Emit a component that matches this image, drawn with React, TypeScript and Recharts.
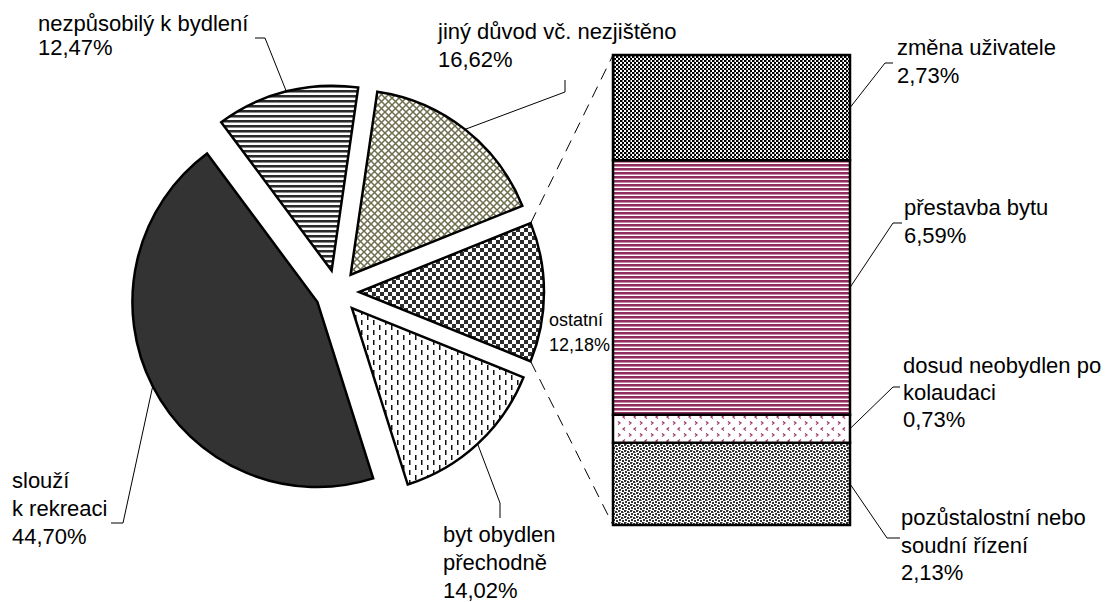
import React from 'react';
import { PieChart, Pie, BarChart, Bar, XAxis, YAxis, LabelList } from 'recharts';

// ---------- data ----------
const pieCategories = ['jiný důvod vč. nezjištěno', 'ostatní', 'byt obydlen přechodně', 'slouží k rekreaci', 'nezpůsobilý k bydlení'];
const pieValues = [16.62, 12.18, 14.02, 44.70, 12.47];
const pieLabelLines = [['jiný důvod vč. nezjištěno'], ['ostatní'], ['byt obydlen', 'přechodně'], ['slouží', 'k rekreaci'], ['nezpůsobilý k bydlení']];

const barCategories = ['změna uživatele', 'přestavba bytu', 'dosud neobydlen po kolaudaci', 'pozůstalostní nebo soudní řízení'];
const barValues = [2.73, 6.59, 0.73, 2.13];
const barLabelLines = [['změna uživatele'], ['přestavba bytu'], ['dosud neobydlen po', 'kolaudaci'], ['pozůstalostní nebo', 'soudní řízení']];

// ---------- styles / layout ----------
const FONT = 'Liberation Sans, Arial, Helvetica, sans-serif';
const pieFills = ['url(#pJiny)', 'url(#pOst)', 'url(#pByt)', '#333333', 'url(#pNez)'];
const barFills = ['url(#pZm)', 'url(#pPre)', 'url(#pDos)', 'url(#pPoz)'];

const PIE_CX = 337;
const PIE_CY = 292;
const PIE_R = 185;
const EXPLODE = 22;
const FIRST_ANGLE = 8.3; // degrees clockwise from 12 o'clock

const BAR_LEFT = 613;
const BAR_RIGHT = 850;
const BAR_TOP = 55;
const BAR_BOTTOM = 525;
const W = 1105;
const H = 602;

const pieLabelLayout = [
  { x: 438, y: 39, lh: 28, size: 22, elbow: [565, 92], end: [565, 80] },
  { x: 549, y: 326, lh: 25, size: 18 },
  { x: 443, y: 542, lh: 28, size: 22, elbow: [500, 503], end: [500, 518] },
  { x: 12, y: 488, lh: 28, size: 22, elbow: [123, 523], end: [111, 523] },
  { x: 38, y: 31, lh: 24, size: 22, elbow: [265, 38], end: [255, 38] },
];

const barLabelLayout = [
  { x: 897, y: 55, lh: 28, elbow: [885, 63], end: [893, 63] },
  { x: 904, y: 215, lh: 28, elbow: [893, 223], end: [902, 223] },
  { x: 903, y: 373, lh: 27, elbow: [893, 387], end: [900, 387] },
  { x: 901, y: 525, lh: 27.5, elbow: [887, 538], end: [900, 538] },
];

const fmt = (v: number) => v.toFixed(2).replace('.', ',') + '%';
const RAD = Math.PI / 180;

// slice geometry from data
let acc = FIRST_ANGLE;
const slices = pieValues.map((v) => {
  const a0 = acc;
  const a1 = acc + (v / 100) * 360;
  acc = a1;
  const mid = (a0 + a1) / 2;
  const midR = (90 - mid) * RAD;
  return {
    a0,
    a1,
    start: 90 - a0,
    end: 90 - a1,
    cx: PIE_CX + EXPLODE * Math.cos(midR),
    cy: PIE_CY - EXPLODE * Math.sin(midR),
  };
});

const barTotal = barValues.reduce((s, v) => s + v, 0);
const barRow: Record<string, any> = { name: 'ostatní' };
barValues.forEach((v, i) => {
  barRow['k' + i] = v;
});
const barData = [barRow];

const renderPieLabel = (i: number) => (props: any) => {
  const L = pieLabelLayout[i];
  const s = slices[i];
  const cx = props.cx ?? s.cx;
  const cy = props.cy ?? s.cy;
  const mid = props.midAngle ?? (s.start + s.end) / 2;
  const r = props.outerRadius ?? PIE_R;
  const ax = cx + r * Math.cos(mid * RAD);
  const ay = cy - r * Math.sin(mid * RAD);
  const lines = [...pieLabelLines[i], fmt(pieValues[i])];
  return (
    <g key={'pl' + i}>
      {L.elbow && (
        <polyline
          points={`${ax},${ay} ${L.elbow[0]},${L.elbow[1]} ${L.end![0]},${L.end![1]}`}
          fill="none"
          stroke="#000"
          strokeWidth={1}
        />
      )}
      <text fontFamily={FONT} fontSize={L.size} fill="#000" stroke="none">
        {lines.map((t, j) => (
          <tspan key={j} x={L.x} y={L.y + j * L.lh}>
            {t}
          </tspan>
        ))}
      </text>
    </g>
  );
};

const renderBarLabel = (i: number) => (props: any) => {
  const L = barLabelLayout[i];
  const x = Number(props.x) + Number(props.width);
  const y = Number(props.y) + Number(props.height) / 2;
  const lines = [...barLabelLines[i], fmt(barValues[i])];
  return (
    <g key={'bl' + i}>
      <polyline
        points={`${x},${y} ${L.elbow[0]},${L.elbow[1]} ${L.end[0]},${L.end[1]}`}
        fill="none"
        stroke="#000"
        strokeWidth={1}
      />
      <text fontFamily={FONT} fontSize={22} fill="#000">
        {lines.map((t, j) => (
          <tspan key={j} x={L.x} y={L.y + j * L.lh}>
            {t}
          </tspan>
        ))}
      </text>
    </g>
  );
};

const Patterns = () => (
  <svg width={0} height={0} style={{ position: 'absolute' }}>
    <defs>
      <pattern id="pNez" width="8" height="5" patternUnits="userSpaceOnUse">
        <rect width="8" height="5" fill="#fff" />
        <rect y="0" width="8" height="2" fill="#2a2a2a" />
        <rect y="2" width="8" height="1" fill="#8a8a8a" />
      </pattern>
      <pattern id="pJiny" width="7" height="7" patternUnits="userSpaceOnUse">
        <rect width="7" height="7" fill="#fff" />
        <path d="M-1,-1 L8,8 M8,-1 L-1,8" stroke="#6e6e4e" strokeWidth="1.5" />
      </pattern>
      <pattern id="pOst" width="8" height="8" patternUnits="userSpaceOnUse">
        <rect width="8" height="8" fill="#fff" />
        <rect width="4" height="4" fill="#2e2e2e" />
        <rect x="4" y="4" width="4" height="4" fill="#2e2e2e" />
      </pattern>
      <pattern id="pByt" width="12" height="10" patternUnits="userSpaceOnUse">
        <rect width="12" height="10" fill="#fff" />
        <rect x="1" y="0" width="1.5" height="5" fill="#111" />
        <rect x="7" y="5" width="1.5" height="5" fill="#111" />
      </pattern>
      <pattern id="pZm" width="4" height="4" patternUnits="userSpaceOnUse">
        <rect width="4" height="4" fill="#fff" />
        <rect width="2" height="2" fill="#000" />
        <rect x="2" y="2" width="2" height="2" fill="#000" />
        <rect x="2" y="0" width="1" height="2" fill="#888" />
      </pattern>
      <pattern id="pPre" width="8" height="4" patternUnits="userSpaceOnUse">
        <rect width="8" height="4" fill="#fff" />
        <rect y="0" width="8" height="2" fill="#8f2d5e" />
        <rect y="2" width="8" height="1" fill="#c98aa9" />
      </pattern>
      <pattern id="pDos" width="11" height="12" patternUnits="userSpaceOnUse">
        <rect width="11" height="12" fill="#fff" />
        <path d="M2,1.5 L4,3 L2,4.5" stroke="#993366" strokeWidth="1.2" fill="none" />
        <path d="M9,7.5 L7,9 L9,10.5" stroke="#993366" strokeWidth="1.2" fill="none" />
      </pattern>
      <pattern id="pPoz" width="6" height="6" patternUnits="userSpaceOnUse">
        <rect width="6" height="6" fill="#fff" />
        <rect x="0" y="0" width="2" height="2" fill="#333" />
        <rect x="3" y="1" width="2" height="2" fill="#333" />
        <rect x="1" y="3" width="2" height="2" fill="#333" />
        <rect x="4" y="4" width="2" height="2" fill="#333" />
        <rect x="2" y="0" width="1" height="1" fill="#888" />
        <rect x="5" y="2" width="1" height="1" fill="#888" />
      </pattern>
    </defs>
  </svg>
);

const SeriesLines = () => {
  const s = slices[1];
  const top = { x: s.cx + PIE_R * Math.sin(s.a0 * RAD), y: s.cy - PIE_R * Math.cos(s.a0 * RAD) };
  const bot = { x: s.cx + PIE_R * Math.sin(s.a1 * RAD), y: s.cy - PIE_R * Math.cos(s.a1 * RAD) };
  return (
    <svg width={W} height={H} style={{ position: 'absolute', left: 0, top: 0, pointerEvents: 'none' }}>
      <line x1={top.x} y1={top.y} x2={BAR_LEFT} y2={BAR_TOP} stroke="#000" strokeWidth={1} strokeDasharray="12 8" />
      <line x1={bot.x} y1={bot.y} x2={BAR_LEFT} y2={BAR_BOTTOM} stroke="#000" strokeWidth={1} strokeDasharray="12 8" />
    </svg>
  );
};

export default function App() {
  const pieData = pieCategories.map((name, i) => ({ name, value: pieValues[i] }));
  const stackOrder = [3, 2, 1, 0];
  return (
    <div style={{ position: 'absolute', left: 0, top: 0, width: W, height: H, background: '#fff', fontFamily: FONT }}>
      <Patterns />
      <div style={{ position: 'absolute', left: 0, top: 0 }}>
        <PieChart width={W} height={H} margin={{ top: 0, right: 0, bottom: 0, left: 0 }}>
          {slices.map((s, i) => (
            <Pie
              key={i}
              data={[pieData[i]]}
              dataKey="value"
              nameKey="name"
              cx={s.cx}
              cy={s.cy}
              innerRadius={0}
              outerRadius={PIE_R}
              startAngle={s.start}
              endAngle={s.end}
              fill={pieFills[i]}
              stroke="#000"
              strokeWidth={2.5}
              isAnimationActive={false}
              label={renderPieLabel(i)}
              labelLine={false}
            />
          ))}
        </PieChart>
      </div>
      <div style={{ position: 'absolute', left: 0, top: 0 }}>
        <BarChart
          width={W}
          height={H}
          data={barData}
          margin={{ top: BAR_TOP, bottom: H - BAR_BOTTOM, left: BAR_LEFT, right: W - BAR_RIGHT }}
          barCategoryGap={0}
          barGap={0}
        >
          <XAxis dataKey="name" hide />
          <YAxis hide domain={[0, barTotal]} />
          {stackOrder.map((i) => (
            <Bar
              key={i}
              dataKey={'k' + i}
              name={barCategories[i]}
              stackId="a"
              fill={barFills[i]}
              stroke="#000"
              strokeWidth={2.5}
              isAnimationActive={false}
            >
              <LabelList dataKey={'k' + i} content={renderBarLabel(i)} />
            </Bar>
          ))}
        </BarChart>
      </div>
      <SeriesLines />
    </div>
  );
}
